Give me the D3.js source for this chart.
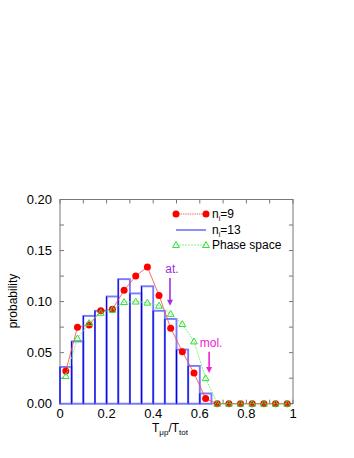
<!DOCTYPE html>
<html lang="en">
<head>
<meta charset="UTF-8">
<title>probability</title>
<script src="https://d3js.org/d3.v7.min.js"></script>
<style>
  body { margin: 0; background: #fff; }
  text { font-family: "Liberation Sans", Arial, sans-serif; }
</style>
</head>
<body>
<svg id="chart" width="354" height="458"></svg>
<script>
// bins of width 0.05 on T_up/T_tot
var binStart = d3.range(0, 1, 0.05);
// n_i = 13 histogram
var hist13 = [0.036, 0.061, 0.086, 0.091, 0.105, 0.122, 0.108, 0.115, 0.091, 0.083,
              0.053, 0.037, 0.010, 0, 0, 0, 0, 0, 0, 0];
// n_i = 9 points (bin centres)
var pts9 = [0.032, 0.075, 0.077, 0.091, 0.0925, 0.111, 0.125, 0.134, 0.106, 0.074,
            0.051, 0.030, 0.005, 0, 0, 0, 0, 0, 0, 0];
// phase space
var phase = [0.027, 0.064, 0.079, 0.089, 0.092, 0.0995, 0.100, 0.099, 0.096, 0.088,
             0.078, 0.061, 0.025, 0, 0, 0, 0, 0, 0, 0];
var xTicks = [0, 0.2, 0.4, 0.6, 0.8, 1];
var yTicks = [0, 0.05, 0.10, 0.15, 0.20];
var arrows = [
    {label: "at.", x: 0.472, y0: 0.123, y1: 0.096, color: "#a030e0"},
    {label: "mol.", x: 0.64, y0: 0.051, y1: 0.030, color: "#f020d0"}
];

var svg = d3.select("#chart");
var mLeft = 60, mRight = 293, mTop = 199.5, mBottom = 403.7;
var x = d3.scaleLinear().domain([0, 1]).range([mLeft, mRight]);
var y = d3.scaleLinear().domain([0, 0.2]).range([mBottom, mTop]);

// frame
svg.append("rect")
    .attr("x", mLeft).attr("y", mTop)
    .attr("width", mRight - mLeft).attr("height", mBottom - mTop)
    .attr("fill", "none").attr("stroke", "#777").attr("stroke-width", 1);

// ticks pointing inward on all four sides
var xt = d3.range(0, 1.001, 0.1);
var yt = d3.range(0, 0.2001, 0.025);
var tk = svg.append("g").attr("stroke", "#777").attr("stroke-width", 1);
xt.forEach(function(v){
    tk.append("line").attr("x1", x(v)).attr("x2", x(v)).attr("y1", mBottom).attr("y2", mBottom - 4);
    tk.append("line").attr("x1", x(v)).attr("x2", x(v)).attr("y1", mTop).attr("y2", mTop + 4);
});
yt.forEach(function(v){
    tk.append("line").attr("x1", mLeft).attr("x2", mLeft + 4).attr("y1", y(v)).attr("y2", y(v));
    tk.append("line").attr("x1", mRight).attr("x2", mRight - 4).attr("y1", y(v)).attr("y2", y(v));
});

// tick labels
svg.selectAll(".xl").data(xTicks).enter().append("text")
    .attr("x", function(d){ return x(d); })
    .attr("y", 418)
    .attr("text-anchor", "middle")
    .attr("font-size", 13)
    .text(function(d){ return d === 0 ? "0" : (d === 1 ? "1" : d.toFixed(1)); });
svg.selectAll(".yl").data(yTicks).enter().append("text")
    .attr("x", 52)
    .attr("y", function(d){ return y(d) + 4.5; })
    .attr("text-anchor", "end")
    .attr("font-size", 13)
    .text(function(d){ return d.toFixed(2); });

// axis titles
var xl = svg.append("text").attr("x", 170).attr("y", 432)
    .attr("text-anchor", "middle").attr("font-size", 12);
xl.append("tspan").text("T");
xl.append("tspan").attr("font-size", 8).attr("dy", 3).text("\u03bcp");
xl.append("tspan").attr("dy", -3).text("/T");
xl.append("tspan").attr("font-size", 8).attr("dy", 3).text("tot");

svg.append("text")
    .attr("transform", "translate(17,301) rotate(-90)")
    .attr("text-anchor", "middle")
    .attr("font-size", 12)
    .text("probability");

// histogram n_i = 13
var hg = svg.append("g");
hg.selectAll("rect").data(hist13).enter().append("rect")
    .attr("x", function(d, i){ return x(binStart[i]); })
    .attr("y", function(d){ return y(d); })
    .attr("width", function(d, i){ return x(binStart[i] + 0.05) - x(binStart[i]); })
    .attr("height", function(d){ return mBottom - y(d); })
    .attr("fill", "none")
    .attr("stroke", "#7a7aff")
    .attr("stroke-width", 1.9);
hg.selectAll("line").data(hist13).enter().append("line")
    .attr("x1", function(d, i){ return x(binStart[i]); })
    .attr("x2", function(d, i){ return x(binStart[i]); })
    .attr("y1", function(d){ return y(d); })
    .attr("y2", mBottom)
    .attr("stroke", "#0000d0")
    .attr("stroke-width", 1);

var centres = binStart.map(function(b){ return b + 0.025; });

// n_i = 9
var line = d3.line().x(function(d){ return x(d[0]); }).y(function(d){ return y(d[1]); });
var red = centres.map(function(c, i){ return [c, pts9[i]]; });
svg.append("path").datum(red).attr("d", line)
    .attr("fill", "none").attr("stroke", "#ff4444").attr("stroke-width", 0.8);
svg.selectAll(".dot").data(red).enter().append("circle")
    .attr("cx", function(d){ return x(d[0]); })
    .attr("cy", function(d){ return y(d[1]); })
    .attr("r", 3.5)
    .attr("fill", "#ff0000");

// phase space
var green = centres.map(function(c, i){ return [c, phase[i]]; });
svg.append("path").datum(green).attr("d", line)
    .attr("fill", "none").attr("stroke", "#66ee66").attr("stroke-width", 0.8)
    .attr("stroke-dasharray", "2,1");
var tri = d3.symbol().type(d3.symbolTriangle).size(20);
svg.selectAll(".tri").data(green).enter().append("path")
    .attr("d", tri)
    .attr("transform", function(d){ return "translate(" + x(d[0]) + "," + (y(d[1]) + 0.5) + ")"; })
    .attr("fill", "none").attr("stroke", "#33dd33").attr("stroke-width", 1);

// arrows
arrows.forEach(function(a){
    var ax = x(a.x);
    svg.append("line").attr("x1", ax).attr("x2", ax)
        .attr("y1", y(a.y0)).attr("y2", y(a.y1) - 5)
        .attr("stroke", a.color).attr("stroke-width", 1.6);
    svg.append("path")
        .attr("d", "M" + (ax - 3) + "," + (y(a.y1) - 6) + "L" + (ax + 3) + "," + (y(a.y1) - 6) + "L" + ax + "," + y(a.y1) + "Z")
        .attr("fill", a.color);
    svg.append("text").attr("x", ax + 2).attr("y", y(a.y0) - 5)
        .attr("text-anchor", "middle").attr("font-size", 12)
        .attr("fill", a.color).text(a.label);
});

// legend
var lg = svg.append("g");
function legText(yy, sub, rest){
    var t = lg.append("text").attr("x", 212).attr("y", yy + 4).attr("font-size", 12).attr("fill", "#000");
    if (sub) {
        t.append("tspan").text("n");
        t.append("tspan").attr("font-size", 7).attr("dy", 3).text("i");
        t.append("tspan").attr("dy", -3).text(rest);
    } else {
        t.text(rest);
    }
}
lg.append("line").attr("x1", 176).attr("x2", 206).attr("y1", 214).attr("y2", 214)
    .attr("stroke", "#ff4444").attr("stroke-width", 0.8).attr("stroke-dasharray", "1.5,0.8");
lg.selectAll(".ld").data([176, 206]).enter().append("circle")
    .attr("cx", function(d){ return d; }).attr("cy", 214).attr("r", 3.5).attr("fill", "#ff0000");
legText(214, true, "=9");
lg.append("line").attr("x1", 176).attr("x2", 206).attr("y1", 230).attr("y2", 230)
    .attr("stroke", "#4444ff").attr("stroke-width", 1.2);
legText(230, true, "=13");
lg.append("line").attr("x1", 176).attr("x2", 206).attr("y1", 245).attr("y2", 245)
    .attr("stroke", "#66ee66").attr("stroke-width", 0.8).attr("stroke-dasharray", "2,1");
lg.selectAll(".lt").data([176, 206]).enter().append("path")
    .attr("d", tri)
    .attr("transform", function(d){ return "translate(" + d + ",245.5)"; })
    .attr("fill", "none").attr("stroke", "#33dd33").attr("stroke-width", 1);
legText(245, false, "Phase space");
</script>
</body>
</html>
